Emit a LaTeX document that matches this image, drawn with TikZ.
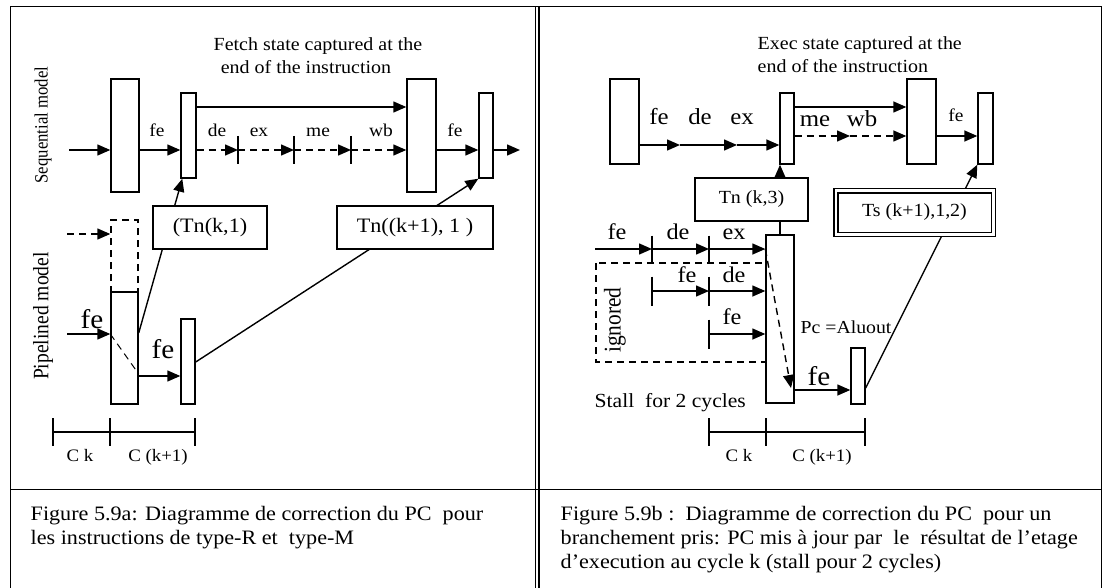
\documentclass[tikz,border=0pt]{standalone}
\usepackage{fontspec}
\setmainfont{Liberation Serif}[FakeStretch=1.08]
\newfontfamily\rotfont{Liberation Serif}[FakeStretch=0.89]
\usetikzlibrary{arrows.meta,fit}
\newcommand{\fsz}[1]{\fontsize{#1}{#1}\selectfont}

\begin{document}
\begin{tikzpicture}[x=1pt,y=-1pt,line width=1.4pt,>={Triangle[length=13pt,width=11pt]},
  blk/.style={draw,fill=white,inner sep=0pt},
  tbox/.style={draw,fill=white,inner sep=0pt,minimum height=43pt},
  lbl/.style={inner sep=0pt,anchor=base},
  dsh/.style={dash pattern=on 7pt off 5pt}]
\useasboundingbox (0,0) rectangle (1102,588);
% blank box: \blk[opts]{name}{x1}{y1}{x2}{y2}
\newcommand{\blk}[6][]{\node[blk,#1,fit={(#3,#4) (#5,#6)}] (#2) {};}
% tick: \tck{name}{x}{y}{half length}
\newcommand{\tck}[4]{\coordinate (#1) at (#2,#3); \draw (#2,#3-#4) -- (#2,#3+#4);}
% ---------- frame ----------
\draw[line width=1pt] (10,588) -- (10,7) -- (1101,7) -- (1101,588);
\draw[line width=0.8pt] (535,7) -- (535,588);
\draw[line width=1.6pt] (539,7) -- (539,588);
\draw[line width=1pt] (10,489) -- (1101,489);
% ---------- (a) type-R / type-M ----------
\node[lbl,font=\fsz{18.5}] (ttlA1) at (318,51) {Fetch state captured at the};
\node[lbl,font=\fsz{18.5}] (ttlA2) at (306,74) {end of the instruction};
\node[rotate=90,font=\rotfont\fsz{18.8}] (seqm) at (43,125) {Sequential model};
\node[rotate=90,font=\rotfont\fsz{22}] (pipm) at (43,316) {Pipelined model};
% sequential model
\blk{sA}{111}{79}{139}{192}
\blk{sB}{181}{93}{196}{178}
\blk{sC}{407}{79}{436}{192}
\blk{sD}{479}{93}{493}{178}
\coordinate (sIn) at (69,150);
\coordinate (sOut) at (520,150);
\tck{t1}{238}{150}{14} \tck{t2}{294}{150}{14} \tck{t3}{351}{150}{14}
\draw[->] (sIn) -- (sA.west |- sIn);
\draw[->] (sA.east |- sIn) -- (sB.west |- sIn);
\draw[->] (sB.east |- 0,107) -- (sC.west |- 0,107);
\draw[dsh,->] (sB.east |- sIn) -- (t1);
\draw[dsh,->] (t1) -- (t2);
\draw[dsh,->] (t2) -- (t3);
\draw[dsh,->] (t3) -- (sC.west |- sIn);
\draw[->] (sC.east |- sIn) -- (sD.west |- sIn);
\draw[->] (sD.east |- sIn) -- (sOut);
\node[lbl,font=\fsz{18}] (lfeA) at (157,137) {fe};
\node[lbl,font=\fsz{18}] (ldeA) at (217,137) {de};
\node[lbl,font=\fsz{18}] (lexA) at (259,137) {ex};
\node[lbl,font=\fsz{18}] (lmeA) at (318,137) {me};
\node[lbl,font=\fsz{18}] (lwbA) at (381,137) {wb};
\node[lbl,font=\fsz{18}] (lfeB) at (455,137) {fe};
% pipelined model
\blk[dsh]{pG}{111}{220}{138}{292}
\blk{pP}{111}{292}{138}{404}
\blk{pQ}{181}{319}{195}{404}
\coordinate (pIn1) at (67,234);
\coordinate (pIn2) at (67,334);
\draw[dsh,->] (pIn1) -- (pG.west |- pIn1);
\draw[->] (pIn2) -- (pP.west |- pIn2);
\draw[dsh,line width=1pt] (pP.west |- pIn2) -- (pP.east |- 0,374);
\draw[->] (pP.east |- 0,376) -- (pQ.west |- 0,376);
\node[lbl,font=\fsz{27}] (lfeC) at (92,328) {fe};
\node[lbl,font=\fsz{27}] (lfeD) at (163,358) {fe};
\draw[->] (pP.east |- 0,333) -- ([xshift=2pt]sB.south west);
\draw[->] (pQ.east |- 0,362) -- (sD.south west);
\node[tbox,minimum width=114pt,font=\fsz{20.5}] (tnA) at (210,227.5) {(Tn(k,1)};
\node[tbox,minimum width=156pt,font=\fsz{20.5}] (tnB) at (415,227.5) {Tn((k+1), 1 )};
% cycles
\tck{ka}{53}{432}{14} \tck{kb}{110}{432}{14} \tck{kc}{195}{432}{14}
\draw (ka) -- (kc);
\node[lbl,font=\fsz{17.5}] (ckA) at (80,461) {C k};
\node[lbl,font=\fsz{17.5}] (ckB) at (158,461) {C (k+1)};
\node[lbl,anchor=base west,font=\fsz{20.5}] (capA1) at (30,520) {Figure 5.9a: Diagramme de correction du PC\ \ pour};
\node[lbl,anchor=base west,font=\fsz{20.5}] (capA2) at (30,544) {les instructions de type-R et\ \ type-M};
% ---------- (b) branch taken ----------
\node[lbl,anchor=base west,font=\fsz{18.5}] (ttlB1) at (757,50) {Exec state captured at the};
\node[lbl,anchor=base west,font=\fsz{18.5}] (ttlB2) at (757,73) {end of the instruction};
% sequential model
\blk{eA}{610}{79}{639}{164}
\blk{eB}{780}{93}{794}{164}
\blk{eC}{907}{79}{936}{164}
\blk{eD}{978}{93}{993}{164}
\coordinate (e1) at (680,145);
\coordinate (e2) at (737,145);
\coordinate (e3) at (850,136);
\draw[->] (eA.east |- e1) -- (e1);
\draw[->] (e1) -- (e2);
\draw[->] (e2) -- (eB.west |- e2);
\draw[->] (eB.east |- 0,107) -- (eC.west |- 0,107);
\draw[dsh,->] (eB.east |- e3) -- (e3);
\draw[dsh,->] (e3) -- (eC.west |- e3);
\draw[->] (eC.east |- e3) -- (eD.west |- e3);
\node[lbl,font=\fsz{23}] (lfeE) at (659,125) {fe};
\node[lbl,font=\fsz{23}] (ldeE) at (700,125) {de};
\node[lbl,font=\fsz{23}] (lexE) at (742,125) {ex};
\node[lbl,font=\fsz{23}] (lmeE) at (815,127) {me};
\node[lbl,font=\fsz{23}] (lwbE) at (862,127) {wb};
\node[lbl,font=\fsz{18}] (lfeF) at (956,122) {fe};
% pipelined model
\draw[dsh] (596,263) rectangle (766,362);
\blk{eE}{766}{235}{794}{403}
\blk{eF}{851}{348}{865}{404}
\coordinate (r1s) at (595,249);
\tck{r1a}{652}{249}{13.5} \tck{r1b}{709}{249}{13.5}
\tck{r2a}{652}{291}{14.5} \tck{r2b}{709}{291}{14.5}
\tck{r3a}{709}{334}{14.5}
\draw[->] (r1s) -- (r1a);
\draw[->] (r1a) -- (r1b);
\draw[->] (r1b) -- (eE.west |- r1b);
\draw[->] (r2a) -- (r2b);
\draw[->] (r2b) -- (eE.west |- r2b);
\draw[->] (r3a) -- (eE.west |- r3a);
\node[lbl,font=\fsz{22.5}] (lfeG) at (617,239) {fe};
\node[lbl,font=\fsz{22.5}] (ldeG) at (678,239) {de};
\node[lbl,font=\fsz{22.5}] (lexG) at (734,239) {ex};
\node[lbl,font=\fsz{22.5}] (lfeH) at (687,282) {fe};
\node[lbl,font=\fsz{22.5}] (ldeH) at (734,282) {de};
\node[lbl,font=\fsz{22.5}] (lfeI) at (732,324) {fe};
\node[rotate=90,font=\rotfont\fsz{24}] (ign) at (615,320) {ignored};
\coordinate (eTip) at (791,388);
\draw[dsh,->] (eE.west |- r1b) -- (eTip);
\draw[->] (eE.east |- 0,390) -- (eF.west |- 0,390);
\node[lbl,font=\fsz{27}] (lfeJ) at (819,385) {fe};
\node[lbl,anchor=base west,font=\fsz{18.3}] (pcal) at (800,333) {Pc =Aluout};
\node[lbl,anchor=base west,font=\fsz{20}] (stall) at (594,407) {Stall\ \ for 2 cycles};
\draw[->] (eE.north) -- (eE.north |- eB.south);
\draw[->] (eF.east |- 0,388) -- (eD.south west);
\node[tbox,minimum width=113pt,font=\fsz{18.5}] (tnC) at (751.5,199.5) {Tn (k,3)};
\node[tbox,double,double distance=2.5pt,line width=1.5pt,minimum width=157.5pt,minimum height=43.5pt,font=\fsz{18.5}] (tsD) at (914.5,212.5) {\raisebox{-4pt}{Ts (k+1),1,2)}};
% cycles
\tck{kd}{709}{432}{14} \tck{ke}{766}{432}{14} \tck{kf}{865}{432}{14}
\draw (kd) -- (kf);
\node[lbl,font=\fsz{17.5}] (ckC) at (739,461) {C k};
\node[lbl,font=\fsz{17.5}] (ckD) at (822,461) {C (k+1)};
\node[lbl,anchor=base west,font=\fsz{20.5}] (capB1) at (560,520) {Figure 5.9b :\ \ Diagramme de correction du PC\ \ pour un};
\node[lbl,anchor=base west,font=\fsz{20.5}] (capB2) at (560,544) {branchement pris: PC mis à jour par\ \ le\ \ résultat de l'etage};
\node[lbl,anchor=base west,font=\fsz{20.5}] (capB3) at (560,568) {d'execution au cycle k (stall pour 2 cycles)};
\end{tikzpicture}
\end{document}
